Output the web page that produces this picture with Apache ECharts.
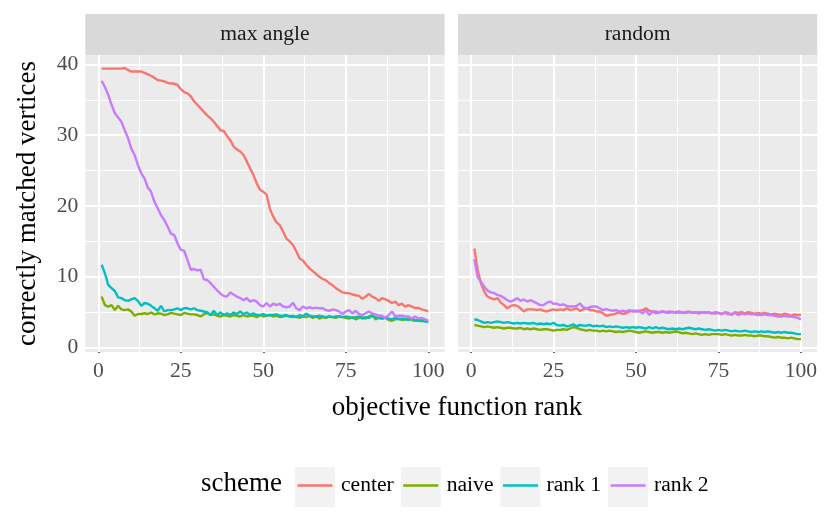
<!DOCTYPE html>
<html>
<head>
<meta charset="utf-8">
<script src="https://cdn.jsdelivr.net/npm/echarts@6/dist/echarts.min.js"></script>
<style>
html,body{margin:0;padding:0;background:#fff;}
#chart{width:830px;height:531px;}
</style>
</head>
<body>
<div id="chart"></div>
<script>
// ---- data ----
var facets = ['max angle', 'random'];
var schemes = ['center', 'naive', 'rank 1', 'rank 2'];
var xTicks = [0, 25, 50, 75, 100];
var yTicks = [0, 10, 20, 30, 40];

var maxCenter = [39.4,39.4,39.4,39.4,39.4,39.4,39.4,39.5,39.2,39.0,39.0,39.0,39.0,38.8,38.6,38.4,38.1,37.8,37.7,37.6,
37.4,37.3,37.3,37.1,36.5,36.1,35.9,35.5,34.8,34.3,33.8,33.3,32.8,32.4,31.9,31.3,30.7,30.6,29.9,29.3,
28.4,28.0,27.7,27.2,26.3,25.3,24.4,23.2,22.3,22.0,21.6,19.6,18.5,17.7,17.3,16.4,15.4,15.0,14.5,13.6,
12.6,12.3,11.7,11.2,10.8,10.4,10.0,9.7,9.5,9.1,8.8,8.4,8.1,7.8,7.7,7.7,7.5,7.4,7.3,6.9,
7.2,7.6,7.2,7.0,6.6,7.0,6.8,6.6,6.3,6.5,6.0,6.2,5.8,6.0,5.8,5.6,5.6,5.4,5.3,5.1];
var maxNaive = [7.2,6.0,5.8,6.0,5.3,5.9,5.4,5.3,5.4,5.1,4.5,4.75,4.75,4.85,4.75,4.95,4.7,4.85,4.8,4.6,
4.7,4.9,4.8,4.7,4.6,4.9,4.8,4.7,4.7,4.6,4.4,4.7,4.9,4.6,4.7,4.5,4.4,4.6,4.5,4.4,
4.6,4.5,4.4,4.6,4.4,4.5,4.5,4.3,4.6,4.4,4.5,4.6,4.4,4.5,4.3,4.4,4.5,4.4,4.3,4.4,
4.2,4.4,4.3,4.5,4.2,4.4,4.1,4.3,4.2,4.4,4.3,4.2,4.4,4.3,4.2,4.1,4.3,4.0,4.2,4.3,
4.1,4.4,4.6,4.0,4.2,4.1,4.2,3.9,3.8,4.0,4.1,3.9,4.0,4.1,3.9,3.8,3.9,3.7,3.8,3.7];
var maxRank1 = [11.7,10.5,8.85,8.4,8.0,7.1,7.0,6.7,6.6,6.8,7.0,6.6,5.9,6.3,6.2,5.9,5.55,5.2,5.9,5.1,
5.3,5.3,5.4,5.55,5.3,5.55,5.55,5.4,5.55,5.3,5.2,5.1,5.0,4.6,5.2,4.6,4.95,4.6,4.85,4.6,
4.95,4.75,5.1,4.75,4.95,4.6,4.85,4.6,4.6,4.75,4.5,4.6,4.6,4.7,4.5,4.5,4.6,4.4,4.5,4.3,
4.6,4.4,4.8,4.5,4.4,4.4,4.5,4.4,4.3,4.4,4.3,4.4,4.4,4.3,4.4,4.3,4.2,4.3,4.4,4.1,
4.3,4.2,4.5,4.3,4.2,4.1,4.3,4.1,4.0,4.2,4.0,4.1,4.0,3.9,4.1,3.9,3.8,3.9,3.7,3.6];
var maxRank2 = [37.7,36.8,35.7,34.3,33.1,32.5,31.9,30.7,29.6,28.1,27.2,25.8,24.6,23.9,22.6,22.0,20.6,19.7,18.7,18.0,
17.1,16.1,15.9,14.7,13.8,13.7,12.4,11.0,11.1,10.9,11.0,9.65,9.55,9.1,8.6,8.1,7.6,7.3,7.2,7.8,
7.5,7.2,7.0,6.7,7.0,6.5,6.7,6.5,6.0,5.8,6.3,5.8,6.2,6.0,6.2,5.8,5.7,5.8,6.35,5.55,
5.3,5.8,5.55,5.7,5.55,5.65,5.55,5.55,5.3,5.2,5.4,5.3,5.1,4.75,5.1,5.3,4.85,5.2,4.75,4.6,
4.85,5.1,4.85,4.7,4.5,4.5,4.2,4.6,5.1,4.4,4.5,4.5,4.4,4.4,4.1,4.4,4.1,4.2,4.0,3.8];

var rndCenter = [14.0,11.0,9.1,7.9,7.2,7.0,6.8,7.0,6.35,6.0,5.55,5.9,6.0,5.9,5.55,5.1,5.4,5.4,5.4,5.3,
5.4,5.2,5.1,5.3,5.4,5.3,5.4,5.3,5.55,5.3,5.4,5.55,5.2,5.4,5.55,5.3,5.3,5.1,5.1,4.85,
4.5,4.6,4.7,4.85,4.95,4.75,4.85,5.1,5.2,5.1,5.2,5.3,5.55,5.2,5.1,4.85,4.95,5.1,5.0,4.9,
5.1,4.9,5.0,4.9,5.0,5.1,4.9,5.0,4.8,5.0,4.9,5.0,4.8,5.0,4.9,4.7,5.0,4.9,4.6,5.0,
4.9,5.0,4.8,5.0,4.9,4.8,4.9,4.8,4.9,4.8,4.7,4.8,4.7,4.6,4.8,4.7,4.5,4.7,4.6,4.6];
var rndNaive = [3.2,3.1,3.0,2.9,3.0,2.9,2.8,2.9,2.8,2.7,2.8,2.8,2.7,2.7,2.8,2.6,2.7,2.6,2.7,2.6,
2.5,2.6,2.6,2.5,2.4,2.5,2.5,2.6,2.5,2.7,2.9,2.8,2.6,2.5,2.4,2.5,2.4,2.4,2.3,2.4,
2.3,2.4,2.3,2.2,2.3,2.2,2.3,2.4,2.3,2.2,2.1,2.2,2.3,2.2,2.1,2.2,2.2,2.1,2.2,2.1,
2.2,2.3,2.2,2.0,2.1,2.0,1.9,2.0,1.9,1.8,1.9,1.8,1.9,1.9,1.9,1.8,1.9,1.8,1.7,1.8,
1.7,1.7,1.8,1.7,1.7,1.6,1.7,1.7,1.6,1.6,1.5,1.4,1.5,1.4,1.4,1.3,1.4,1.3,1.2,1.2];
var rndRank1 = [4.0,3.9,3.7,3.5,3.6,3.5,3.6,3.7,3.6,3.5,3.6,3.5,3.4,3.5,3.4,3.5,3.4,3.4,3.5,3.3,
3.4,3.3,3.4,3.3,3.5,3.2,3.1,3.2,3.0,3.1,3.3,3.0,3.2,3.1,3.1,3.2,3.0,3.1,3.0,3.1,
2.9,3.0,2.9,3.0,2.9,2.8,2.9,2.8,2.9,2.8,2.9,2.8,2.7,2.9,2.7,2.9,2.7,2.8,2.7,2.6,
2.7,2.6,2.7,2.6,2.7,2.8,2.7,2.6,2.7,2.6,2.5,2.6,2.5,2.4,2.5,2.4,2.5,2.4,2.3,2.4,
2.3,2.3,2.4,2.3,2.2,2.3,2.2,2.3,2.2,2.3,2.2,2.1,2.2,2.1,2.2,2.1,2.1,2.0,1.9,1.9];
var rndRank2 = [12.5,10.0,9.3,8.6,8.05,7.8,7.7,7.45,7.3,7.05,6.7,6.5,6.7,7.0,6.6,6.8,6.5,6.7,6.5,6.25,
6.0,6.0,6.35,6.5,6.2,6.2,6.0,6.1,5.9,5.8,5.8,5.9,6.25,5.7,5.55,5.7,5.8,5.8,5.55,5.3,
5.45,5.3,5.2,5.3,5.1,5.2,5.1,5.3,5.1,5.2,5.1,4.85,5.3,4.6,5.1,5.1,5.0,5.1,5.0,5.1,
5.0,5.0,5.1,5.0,4.9,5.0,5.0,4.9,5.0,4.9,5.0,4.9,4.9,4.8,4.9,4.8,4.9,4.7,4.8,4.9,
4.6,4.8,4.7,4.8,4.7,4.7,4.6,4.6,4.7,4.6,4.6,4.5,4.4,4.4,4.5,4.4,4.4,4.3,4.2,4.0];

var panelData = [
  [maxCenter, maxNaive, maxRank1, maxRank2],
  [rndCenter, rndNaive, rndRank1, rndRank2]
];
var colors = ['#F8766D', '#7CAE00', '#00BFC4', '#C77CFF'];

// ---- layout ----
var FONT = 'Liberation Serif';
var grids = [
  {left: 85.3, right: 385.4, top: 55, bottom: 179},
  {left: 458, right: 12.7, top: 55, bottom: 179}
];
var X_MIN = -3.95, X_MAX = 104.95, Y_MIN = -0.62, Y_MAX = 41.33;
var xMinor = [12.5, 37.5, 62.5, 87.5];
var yMinor = [5, 15, 25, 35];

function toPairs(arr) { return arr.map(function (v, i) { return [i + 1, v]; }); }

var xAxes = [], yAxes = [], series = [], graphics = [];
for (var g = 0; g < 2; g++) {
  xAxes.push({
    type: 'value', gridIndex: g, min: X_MIN, max: X_MAX,
    axisLine: {show: false},
    splitLine: {show: false},
    axisTick: {show: true, customValues: xTicks, length: 5.5, lineStyle: {color: '#333333', width: 1.5}},
    axisLabel: {show: true, customValues: xTicks, margin: 8, color: '#4D4D4D', fontFamily: FONT, fontSize: 21.6}
  });
  yAxes.push({
    type: 'value', gridIndex: g, min: Y_MIN, max: Y_MAX,
    axisLine: {show: false},
    splitLine: {show: false},
    axisTick: {show: g === 0, customValues: yTicks, length: 5.5, lineStyle: {color: '#333333', width: 1.5}},
    axisLabel: {show: g === 0, customValues: yTicks, margin: 7, color: '#4D4D4D', fontFamily: FONT, fontSize: 21.6},
    name: g === 0 ? 'correctly matched vertices' : '',
    nameLocation: 'middle', nameGap: 44,
    nameTextStyle: {color: '#000', fontFamily: FONT, fontSize: 27}
  });
  // gridlines
  var ml = [];
  xMinor.forEach(function (v) { ml.push({xAxis: v, lineStyle: {width: 1, color: '#FFFFFF', type: 'solid'}}); });
  yMinor.forEach(function (v) { ml.push({yAxis: v, lineStyle: {width: 1, color: '#FFFFFF', type: 'solid'}}); });
  xTicks.forEach(function (v) { ml.push({xAxis: v, lineStyle: {width: 2, color: '#FFFFFF', type: 'solid'}}); });
  yTicks.forEach(function (v) { ml.push({yAxis: v, lineStyle: {width: 2, color: '#FFFFFF', type: 'solid'}}); });
  series.push({
    type: 'line', name: '_grid' + g, xAxisIndex: g, yAxisIndex: g, data: [], z: 1, silent: true,
    markLine: {silent: true, z: 1, symbol: ['none', 'none'], label: {show: false}, animation: false, data: ml}
  });
  for (var s = 0; s < 4; s++) {
    series.push({
      type: 'line', name: schemes[s], xAxisIndex: g, yAxisIndex: g,
      data: toPairs(panelData[g][s]), showSymbol: false, symbol: 'none', z: 10 + s,
      lineStyle: {color: colors[s], width: 2.4}, itemStyle: {color: colors[s]},
      animation: false
    });
  }
}

// facet strips
var stripX = [[85.3, 444.6], [458, 817.3]];
for (var k = 0; k < 2; k++) {
  graphics.push({type: 'rect', shape: {x: stripX[k][0], y: 14, width: stripX[k][1] - stripX[k][0], height: 41}, style: {fill: '#D9D9D9'}, silent: true});
  graphics.push({type: 'text', x: (stripX[k][0] + stripX[k][1]) / 2, y: 34.5, style: {text: facets[k], fill: '#1A1A1A', font: '21.6px "' + FONT + '"', textAlign: 'center', textVerticalAlign: 'middle'}, silent: true});
}

var legendText = {fontFamily: FONT, fontSize: 21.6, color: '#000'};
var option = {
  backgroundColor: '#FFFFFF',
  animation: false,
  grid: grids.map(function (gr) { return Object.assign({show: true, backgroundColor: '#EBEBEB', borderWidth: 0, containLabel: false}, gr); }),
  xAxis: xAxes,
  yAxis: yAxes,
  series: series,
  title: [
    {text: 'objective function rank', left: 452, top: 389, textAlign: 'center',
     textStyle: {fontFamily: FONT, fontSize: 27, fontWeight: 'normal', color: '#000'}},
    {text: 'scheme', left: 196, top: 465,
     textStyle: {fontFamily: FONT, fontSize: 27, fontWeight: 'normal', color: '#000'}}
  ],
  legend: [
    { // key background boxes
      data: schemes.map(function (n) { return {name: n, itemStyle: {color: '#F2F2F2'}}; }),
      left: 290, top: 462, orient: 'horizontal', z: 2,
      icon: 'rect', itemWidth: 40, itemHeight: 40, itemGap: 8,
      textStyle: Object.assign({}, legendText, {color: 'rgba(0,0,0,0)', padding: [0, 0, 0, 0]}),
      selectedMode: false
    },
    {
      data: schemes, left: 292.5, top: 469.5, orient: 'horizontal', z: 4,
      icon: 'rect', itemWidth: 35, itemHeight: 2.5, itemGap: 9.5,
      textStyle: Object.assign({}, legendText, {padding: [0, 0, 0, 3.5]}),
      selectedMode: false
    }
  ],
  graphic: graphics
};

var chart = echarts.init(document.getElementById('chart'), null, {renderer: 'canvas'});
chart.setOption(option);
</script>
</body>
</html>
